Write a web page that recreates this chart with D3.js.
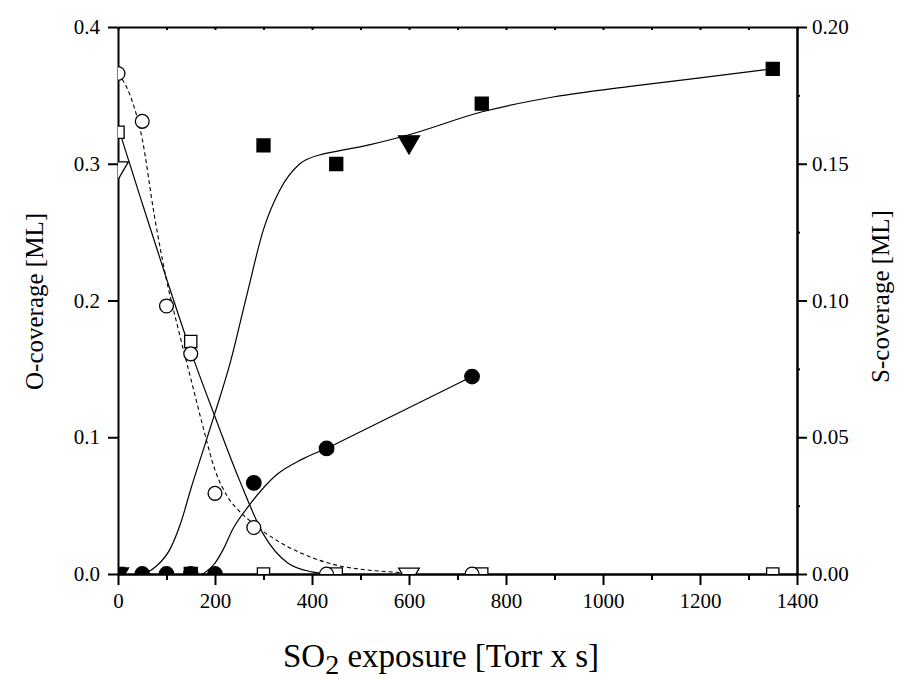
<!DOCTYPE html>
<html>
<head>
<meta charset="utf-8">
<script src="https://cdn.jsdelivr.net/npm/d3@7/dist/d3.min.js"></script>
<style>
  html, body { margin: 0; padding: 0; background: #fff; }
  svg { display: block; }
  svg text { font-family: "Liberation Serif", "Times New Roman", serif; fill: #000; }
</style>
</head>
<body>
<svg id="chart" width="899" height="679"></svg>
<script>
// ---- measured O-coverage (left axis, ML) ----
const openCircleX   = [0, 50, 100, 150, 200, 280, 430, 730];
const openCircleY   = [0.366, 0.331, 0.196, 0.161, 0.059, 0.034, 0, 0];
const openSquareX   = [0, 150, 300, 450, 750, 1350];
const openSquareY   = [0.323, 0.170, 0, 0, 0, 0];
const openTriX      = [0, 600];
const openTriY      = [0.297, 0];

// ---- measured S-coverage (right axis, ML) ----
const solidSquareX  = [0, 150, 300, 450, 750, 1350];
const solidSquareY  = [0, 0, 0.1567, 0.1499, 0.172, 0.1847];
const solidCircleX  = [50, 100, 150, 200, 280, 430, 730];
const solidCircleY  = [0, 0, 0, 0, 0.0333, 0.0459, 0.0722];
const solidTriX     = [0, 600];
const solidTriY     = [0, 0.158];

// ---- guide curves ----
// O-coverage, solid
const oFitX = [0, 50, 100, 150, 200, 250, 300, 350, 400, 430];
const oFitY = [0.327, 0.271, 0.216, 0.163, 0.115, 0.069, 0.029, 0.008, 0.0015, 0];
// O-coverage, dashed
const oDashX = [0, 25, 50, 75, 100, 125, 150, 175, 200, 225, 250, 275, 300, 350, 400, 450, 500, 550, 600];
const oDashY = [0.366, 0.350, 0.318, 0.262, 0.215, 0.178, 0.143, 0.108, 0.076, 0.057, 0.046, 0.038, 0.031, 0.020, 0.012, 0.0065, 0.0035, 0.0018, 0.0008];
// S-coverage, rising fit
const sFitX = [50, 62, 80, 107, 130, 150, 176, 200, 231, 265, 300, 334, 375, 417, 458, 520, 600, 751, 900, 1056, 1200, 1350];
const sFitY = [0, 0.0008, 0.003, 0.009, 0.019, 0.031, 0.0455, 0.0589, 0.077, 0.1015, 0.126, 0.1405, 0.150, 0.1533, 0.1548, 0.1570, 0.1606, 0.169, 0.1745, 0.1783, 0.1814, 0.1847];
// S-coverage, second fit (curve then straight segment)
const sCurveX = [175, 200, 217, 236, 270, 327, 380, 430];
const sCurveY = [0, 0.004, 0.009, 0.0162, 0.025, 0.0363, 0.042, 0.0459];
const sLineX  = [430, 730];
const sLineY  = [0.0459, 0.0722];

// ---- axis ticks ----
const xMajor = [0, 200, 400, 600, 800, 1000, 1200, 1400];
const xMinor = [100, 300, 500, 700, 900, 1100, 1300];
const oTicks = [0, 0.1, 0.2, 0.3, 0.4];
const sTicks = [0, 0.05, 0.10, 0.15, 0.20];
const sMinor = [0.025, 0.075, 0.125, 0.175];

const svg = d3.select("#chart");
const L = 118, R = 797, T = 27, B = 574;
const SERIF = "'Liberation Serif', 'Times New Roman', serif";

const x  = d3.scaleLinear().domain([0, 1400]).range([L, R]);
const yO = d3.scaleLinear().domain([0, 0.4]).range([B, T]);
const yS = d3.scaleLinear().domain([0, 0.2]).range([B, T]);

const zip = (a, b) => a.map((v, i) => [v, b[i]]);

// ---- axes ----
function styleAxis(g) {
  g.attr("font-family", null).attr("font-size", null);
  g.selectAll("path.domain").attr("stroke", "#000").attr("stroke-width", 2);
  g.selectAll(".tick line").attr("stroke", "#000").attr("stroke-width", 2);
  g.selectAll(".tick text").attr("fill", "#000")
    .style("font-family", SERIF).style("font-size", "21px");
}

svg.append("g").attr("transform", `translate(0,${B})`)
  .call(d3.axisBottom(x).tickValues(xMinor).tickSize(6).tickSizeOuter(0).tickFormat(""))
  .call(styleAxis);
svg.append("g").attr("transform", `translate(0,${B})`)
  .call(d3.axisBottom(x).tickValues(xMajor).tickSize(11).tickSizeOuter(0).tickPadding(8).tickFormat(d3.format("d")))
  .call(styleAxis);

svg.append("g").attr("transform", `translate(0,${T})`)
  .call(d3.axisTop(x).tickValues(xMajor.concat(xMinor)).tickSize(-3).tickSizeOuter(0).tickFormat(""))
  .call(styleAxis);

svg.append("g").attr("transform", `translate(${L},0)`)
  .call(d3.axisLeft(yO).tickValues(oTicks).tickSize(10).tickSizeOuter(0).tickPadding(8).tickFormat(d3.format(".1f")))
  .call(styleAxis);

svg.append("g").attr("transform", `translate(${R},0)`)
  .call(d3.axisRight(yS).tickValues(sMinor).tickSize(3).tickSizeOuter(0).tickFormat(""))
  .call(styleAxis);
svg.append("g").attr("transform", `translate(${R},0)`)
  .call(d3.axisRight(yS).tickValues(sTicks).tickSize(10).tickSizeOuter(0).tickPadding(5).tickFormat(d3.format(".2f")))
  .call(styleAxis);

// ---- axis titles ----
svg.append("text")
  .attr("transform", `translate(43,${(T + B) / 2 + 1}) rotate(-90)`)
  .attr("text-anchor", "middle").style("font-size", "25px").text("O-coverage [ML]");
svg.append("text")
  .attr("transform", `translate(889,${(T + B) / 2 - 4}) rotate(-90)`)
  .attr("text-anchor", "middle").style("font-size", "25px").text("S-coverage [ML]");
const xt = svg.append("text")
  .attr("x", 441).attr("y", 667).attr("text-anchor", "middle").style("font-size", "33px");
xt.append("tspan").text("SO");
xt.append("tspan").attr("dy", 7).style("font-size", "28px").text("2");
xt.append("tspan").attr("dy", -7).text(" exposure [Torr x s]");

// ---- plotting area ----
svg.append("clipPath").attr("id", "plotClip")
  .append("rect").attr("x", L).attr("y", T).attr("width", R - L).attr("height", B - T);
const plot = svg.append("g").attr("clip-path", "url(#plotClip)");

const lineO = d3.line().x(d => x(d[0])).y(d => yO(d[1])).curve(d3.curveMonotoneX);
const lineS = d3.line().x(d => x(d[0])).y(d => yS(d[1])).curve(d3.curveMonotoneX);
const lineSStraight = d3.line().x(d => x(d[0])).y(d => yS(d[1]));

plot.append("path").attr("d", lineO(zip(oFitX, oFitY)))
  .attr("fill", "none").attr("stroke", "#000").attr("stroke-width", 1.2);
plot.append("path").attr("d", lineO(zip(oDashX, oDashY)))
  .attr("fill", "none").attr("stroke", "#000").attr("stroke-width", 1.1)
  .attr("stroke-dasharray", "4,3");
plot.append("path").attr("d", lineS(zip(sFitX, sFitY)))
  .attr("fill", "none").attr("stroke", "#000").attr("stroke-width", 1.2);
plot.append("path").attr("d", lineS(zip(sCurveX, sCurveY)))
  .attr("fill", "none").attr("stroke", "#000").attr("stroke-width", 1.2);
plot.append("path").attr("d", lineSStraight(zip(sLineX, sLineY)))
  .attr("fill", "none").attr("stroke", "#000").attr("stroke-width", 1.2);

// ---- markers ----
function markers(xs, ys, yScale, type, size, fill, rotate) {
  plot.append("g").selectAll("path").data(zip(xs, ys)).join("path")
    .attr("transform", d => `translate(${x(d[0])},${yScale(d[1])})${rotate ? " rotate(180)" : ""}`)
    .attr("d", d3.symbol(type, size)())
    .attr("fill", fill).attr("stroke", "#000").attr("stroke-width", 1.3);
}

markers(solidSquareX, solidSquareY, yS, d3.symbolSquare, 169, "#000");
markers(solidCircleX, solidCircleY, yS, d3.symbolCircle, 165, "#000");
markers(solidTriX, solidTriY, yS, d3.symbolTriangle, 191, "#000", true);
markers(openSquareX, openSquareY, yO, d3.symbolSquare, 150, "#fff");
markers(openCircleX, openCircleY, yO, d3.symbolCircle, 150, "#fff");
markers(openTriX, openTriY, yO, d3.symbolTriangle, 185, "#fff", true);
</script>
</body>
</html>
